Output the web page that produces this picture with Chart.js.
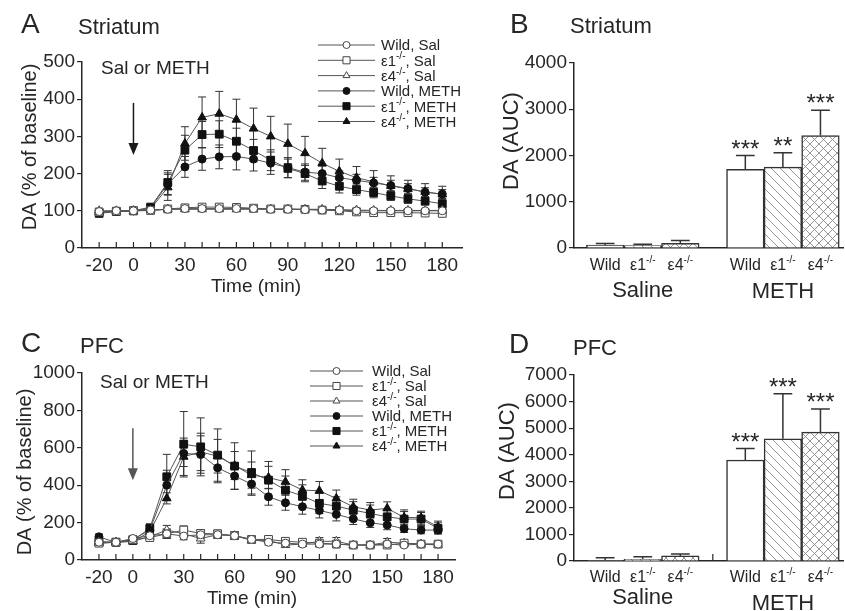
<!DOCTYPE html>
<html>
<head>
<meta charset="utf-8">
<script src="https://cdn.jsdelivr.net/npm/chart.js@4.4.0/dist/chart.umd.min.js"></script>
<style>
    body { margin: 0; background: #fff; }
    #wrap { position: relative; width: 845px; height: 611px; background: #fff; }
    #wrap canvas { position: absolute; left: 0; top: 0; }
</style>
</head>
<body>
<div id="wrap">
    <canvas id="chartA" width="845" height="611"></canvas>
    <canvas id="chartB" width="845" height="611"></canvas>
    <canvas id="chartC" width="845" height="611"></canvas>
    <canvas id="chartD" width="845" height="611"></canvas>
</div>
<script>
/******************************************* DATOS *******************************************/
const times = [-20, -10, 0, 10, 20, 30, 40, 50, 60, 70, 80, 90, 100, 110, 120, 130, 140, 150, 160, 170, 180];
const timeLabels = [-20, 0, 30, 60, 90, 120, 150, 180];
const seriesNames = ["Wild, Sal", "ε1^-/-^, Sal", "ε4^-/-^, Sal", "Wild, METH", "ε1^-/-^, METH", "ε4^-/-^, METH"];
const genotypes = ["Wild", "ε1^-/-^", "ε4^-/-^"];
const groups = ["Saline", "METH"];

// A - Striatum, % of baseline
const striWildSal = [98, 100, 100, 102, 104, 106, 106, 106, 106, 106, 104, 104, 103, 102, 102, 100, 100, 100, 100, 100, 100];
const striE1Sal = [97, 99, 100, 101, 105, 108, 110, 110, 109, 107, 105, 105, 104, 102, 100, 97, 95, 95, 95, 94, 93];
const striE4Sal = [100, 100, 100, 101, 104, 104, 104, 104, 104, 104, 104, 104, 104, 104, 103, 102, 101, 101, 101, 101, 101];
const striWildMeth = [95, 98, 100, 108, 172, 218, 239, 245, 246, 239, 228, 216, 204, 200, 189, 182, 175, 168, 160, 150, 145];
const striE1Meth = [93, 98, 100, 110, 176, 263, 305, 306, 287, 262, 236, 214, 200, 180, 166, 157, 149, 140, 132, 126, 119];
const striE4Meth = [96, 99, 100, 105, 163, 281, 351, 361, 345, 321, 300, 280, 255, 228, 206, 189, 178, 167, 159, 151, 144];
const striWildSalErr = [4, 4, 3, 4, 5, 5, 6, 6, 6, 5, 5, 5, 5, 5, 5, 5, 5, 5, 5, 5, 5];
const striE1SalErr = [4, 4, 3, 4, 5, 6, 6, 6, 6, 6, 5, 5, 5, 5, 5, 5, 5, 5, 5, 5, 5];
const striE4SalErr = [4, 4, 3, 4, 5, 5, 5, 5, 5, 5, 5, 5, 5, 5, 5, 5, 5, 5, 5, 5, 5];
const striWildMethErr = [5, 4, 3, 6, 30, 28, 30, 32, 36, 32, 30, 27, 22, 20, 18, 16, 15, 14, 13, 12, 12];
const striE1MethErr = [5, 4, 3, 6, 32, 40, 35, 36, 35, 30, 28, 25, 22, 20, 18, 15, 14, 12, 12, 10, 10];
const striE4MethErr = [5, 4, 3, 6, 35, 45, 55, 60, 55, 55, 54, 53, 45, 40, 33, 30, 30, 27, 23, 22, 22];

// C - PFC, % of baseline
const pfcWildSal = [95, 95, 115, 130, 140, 128, 135, 135, 130, 110, 95, 90, 85, 85, 85, 80, 80, 85, 80, 85, 85];
const pfcE1Sal = [90, 95, 110, 120, 140, 160, 142, 140, 130, 110, 110, 100, 95, 90, 85, 80, 80, 80, 90, 85, 85];
const pfcE4Sal = [95, 95, 100, 125, 160, 140, 115, 135, 130, 105, 105, 80, 85, 100, 100, 80, 80, 95, 90, 85, 80];
const pfcWildMeth = [124, 94, 110, 160, 400, 570, 564, 493, 449, 406, 338, 306, 285, 265, 244, 220, 199, 187, 167, 160, 160];
const pfcE1Meth = [97, 95, 105, 169, 445, 619, 605, 561, 502, 468, 427, 374, 342, 303, 288, 267, 249, 231, 219, 219, 169];
const pfcE4Meth = [90, 95, 100, 150, 330, 552, 578, 555, 505, 454, 441, 418, 374, 370, 329, 285, 267, 276, 228, 226, 178];
const pfcWildSalErr = [10, 8, 10, 15, 25, 20, 20, 20, 20, 15, 15, 12, 12, 12, 10, 10, 10, 10, 10, 10, 10];
const pfcE1SalErr = [10, 8, 10, 15, 25, 22, 20, 20, 20, 15, 15, 12, 12, 12, 10, 10, 10, 10, 10, 10, 10];
const pfcE4SalErr = [10, 8, 10, 15, 25, 20, 25, 20, 20, 15, 15, 12, 12, 20, 20, 10, 10, 20, 10, 10, 10];
const pfcWildMethErr = [15, 10, 15, 20, 80, 70, 100, 80, 70, 60, 45, 40, 40, 40, 35, 30, 25, 25, 20, 20, 20];
const pfcE1MethErr = [15, 10, 15, 25, 120, 175, 155, 140, 125, 115, 100, 75, 60, 55, 50, 45, 45, 40, 40, 35, 30];
const pfcE4MethErr = [15, 10, 15, 20, 30, 100, 100, 90, 75, 70, 60, 65, 55, 50, 45, 40, 40, 35, 40, 35, 30];

// B - Striatum, AUC
const striSalAUC = [65, 55, 100];
const striSalAUCErr = [35, 25, 60];
const striMethAUC = [1700, 1750, 2430];
const striMethAUCErr = [300, 310, 550];
const striStars = ["***", "**", "***"];

// D - PFC, AUC
const pfcSalAUC = [20, 60, 190];
const pfcSalAUCErr = [100, 100, 75];
const pfcMethAUC = [3800, 4600, 4850];
const pfcMethAUCErr = [430, 1690, 870];
const pfcStars = ["***", "***", "***"];
/**********************************************************************************************/

const FONT = '"Liberation Sans", Arial, Helvetica, sans-serif';
const INK = "#262626";
const W = 845, H = 611, X_H = 30;
const GAP = 0.73; // hueco entre Saline y METH (en anchos de barra)

const markers = ["circle", "rect", "triangle", "circle", "rect", "triangle"];
const radii = [4, 5.5, 5, 4, 5.5, 5];
const legendRadii = [3.5, 5, 4, 3.5, 5, 4];
const filled = [false, false, false, true, true, true];

// texto con superindices: "ε1^-/-^, Sal"
function richText(ctx, str, x, y, size, align) {
    const parts = str.split("^");
    const supSize = Math.round(size * 0.64);
    let w = 0;
    parts.forEach((p, i) => {
        ctx.font = (i % 2 ? supSize : size) + "px " + FONT;
        w += ctx.measureText(p).width;
    });
    let cx = align === "center" ? x - w / 2 : align === "right" ? x - w : x;
    ctx.textAlign = "left";
    ctx.textBaseline = "alphabetic";
    parts.forEach((p, i) => {
        ctx.font = (i % 2 ? supSize : size) + "px " + FONT;
        ctx.fillText(p, cx, i % 2 ? y - size * 0.42 : y);
        cx += ctx.measureText(p).width;
    });
}

function plainText(ctx, t) {
    ctx.save();
    ctx.fillStyle = INK;
    ctx.font = t.size + "px " + FONT;
    ctx.textAlign = t.align || "left";
    ctx.textBaseline = t.rot ? "middle" : "alphabetic";
    ctx.translate(t.x, t.y);
    if (t.rot) ctx.rotate(-Math.PI / 2);
    ctx.fillText(t.text, 0, 0);
    ctx.restore();
}

// patrones de las barras
function makeFill(kind) {
    if (kind === "white") return "#ffffff";
    const s = 9;
    const tile = document.createElement("canvas");
    tile.width = s;
    tile.height = s;
    const g = tile.getContext("2d");
    g.fillStyle = "#fff";
    g.fillRect(0, 0, s, s);
    g.strokeStyle = "#8a8a8a";
    g.lineWidth = 0.9;
    g.beginPath();
    // lineas "\"
    g.moveTo(-1, -1); g.lineTo(s + 1, s + 1);
    g.moveTo(-1, s - 1); g.lineTo(1, s + 1);
    g.moveTo(s - 1, -1); g.lineTo(s + 1, 1);
    if (kind === "cross") {
        // lineas "/"
        g.moveTo(-1, s + 1); g.lineTo(s + 1, -1);
        g.moveTo(-1, 1); g.lineTo(1, -1);
        g.moveTo(s - 1, s + 1); g.lineTo(s + 1, s - 1);
    }
    g.stroke();
    return g.createPattern(tile, "repeat");
}
const barFills = [makeFill("white"), makeFill("diag"), makeFill("cross")];

// configuracion de decoracion por grafica
const deco = {};

function pad(area) {
    return { left: 0, top: area.t, right: W - area.r, bottom: H - area.b - X_H };
}

const decor = {
    id: "decor",
    beforeDatasetsDraw(chart) {
        const d = deco[chart.canvas.id];
        const ctx = chart.ctx;
        const y = chart.scales.y;
        ctx.save();
        ctx.strokeStyle = "#333";
        chart.data.datasets.forEach((ds, i) => {
            const meta = chart.getDatasetMeta(i);
            meta.data.forEach((el, k) => {
                const v = ds.data[k].y;
                const e = ds.errors[k];
                const top = y.getPixelForValue(v + e);
                if (d.kind === "bar") {
                    const half = el.width * 0.25;
                    ctx.lineWidth = 1.5;
                    ctx.beginPath();
                    ctx.moveTo(el.x, el.y);
                    ctx.lineTo(el.x, top);
                    ctx.moveTo(el.x - half, top);
                    ctx.lineTo(el.x + half, top);
                    ctx.stroke();
                } else {
                    const bot = y.getPixelForValue(v - e);
                    ctx.lineWidth = 1;
                    ctx.beginPath();
                    ctx.moveTo(el.x, top);
                    ctx.lineTo(el.x, bot);
                    ctx.moveTo(el.x - 4, top);
                    ctx.lineTo(el.x + 4, top);
                    ctx.moveTo(el.x - 4, bot);
                    ctx.lineTo(el.x + 4, bot);
                    ctx.stroke();
                }
            });
        });
        ctx.restore();
    },
    afterDraw(chart) {
        const d = deco[chart.canvas.id];
        const ctx = chart.ctx;
        const xs = chart.scales.x;
        const ys = chart.scales.y;
        const area = chart.chartArea;
        ctx.save();
        ctx.fillStyle = INK;
        ctx.strokeStyle = INK;

        if (d.kind === "line") {
            // marcas del eje x hacia dentro
            ctx.lineWidth = 1.2;
            ctx.beginPath();
            times.forEach((t) => {
                const px = xs.getPixelForValue(t);
                ctx.moveTo(px, area.bottom);
                ctx.lineTo(px, area.bottom - 6);
            });
            ctx.stroke();

            // flecha de inyeccion
            const ax = xs.getPixelForValue(0);
            const a1 = ys.getPixelForValue(d.arrow[0]);
            const a2 = ys.getPixelForValue(d.arrow[1]);
            ctx.strokeStyle = d.arrowColor;
            ctx.fillStyle = d.arrowColor;
            ctx.lineWidth = 1.5;
            ctx.beginPath();
            ctx.moveTo(ax, a1);
            ctx.lineTo(ax, a2 - 10);
            ctx.stroke();
            ctx.beginPath();
            ctx.moveTo(ax - 5, a2 - 12);
            ctx.lineTo(ax + 5, a2 - 12);
            ctx.lineTo(ax, a2);
            ctx.closePath();
            ctx.fill();

            // leyenda
            const L = d.legend;
            chart.data.datasets.forEach((ds, i) => {
                const ry = L.y + i * L.dy;
                ctx.strokeStyle = "#555";
                ctx.lineWidth = 1;
                ctx.beginPath();
                ctx.moveTo(L.x0, ry);
                ctx.lineTo(L.x1, ry);
                ctx.stroke();
                ctx.fillStyle = filled[i] ? "#111" : "#fff";
                ctx.strokeStyle = filled[i] ? "#111" : "#444";
                Chart.helpers.drawPoint(ctx, { pointStyle: markers[i], radius: legendRadii[i], borderWidth: 1, rotation: 0 }, (L.x0 + L.x1) / 2, ry);
                ctx.fillStyle = INK;
                richText(ctx, seriesNames[i], L.tx, ry + L.size * 0.36, L.size, "left");
            });
        } else {
            // etiquetas de genotipo y grupo
            const meta = chart.getDatasetMeta(0);
            ctx.fillStyle = INK;
            meta.data.forEach((el, i) => {
                richText(ctx, genotypes[i % 3], el.x, d.catY, 16, "center");
            });
            groups.forEach((g, j) => {
                const gx = (meta.data[j * 3].x + meta.data[j * 3 + 2].x) / 2;
                ctx.font = "22px " + FONT;
                ctx.textAlign = "center";
                ctx.fillText(g, gx, d.groupY[j]);
            });
            // asteriscos
            const ds = chart.data.datasets[0];
            d.stars.forEach((s, k) => {
                const i = k + 3;
                const top = ys.getPixelForValue(ds.data[i].y + ds.errors[i]);
                ctx.font = "24px " + FONT;
                ctx.textAlign = "center";
                ctx.fillText(s, meta.data[i].x, top + 1);
            });
            // marca entre grupos
            if (d.gapTick) {
                const gx = xs.getPixelForValue((2.5 + 3 + GAP - 0.5) / 2);
                ctx.lineWidth = 1.2;
                ctx.beginPath();
                ctx.moveTo(gx, area.bottom);
                ctx.lineTo(gx, area.bottom - 7);
                ctx.stroke();
            }
        }

        d.texts.forEach((t) => plainText(ctx, t));
        ctx.restore();
    },
};

function lineChart(id, cfg) {
    deco[id] = cfg;
    const sets = cfg.series.map((vals, i) => ({
        label: seriesNames[i],
        data: times.map((t, k) => ({ x: t, y: vals[k] })),
        errors: cfg.errors[i],
        borderColor: "#555",
        borderWidth: 1,
        pointStyle: markers[i],
        pointRadius: radii[i],
        pointBackgroundColor: filled[i] ? "#111" : "#fff",
        pointBorderColor: filled[i] ? "#111" : "#444",
        pointBorderWidth: 1,
        tension: 0,
    }));
    return new Chart(document.getElementById(id), {
        type: "line",
        data: { datasets: sets },
        options: {
            responsive: false,
            animation: false,
            events: [],
            layout: { padding: pad(cfg.area) },
            plugins: { legend: { display: false }, tooltip: { enabled: false } },
            scales: {
                x: {
                    type: "linear",
                    min: cfg.xMin,
                    max: cfg.xMax,
                    afterFit: (s) => { s.height = X_H; },
                    afterBuildTicks: (s) => { s.ticks = times.map((v) => ({ value: v })); },
                    ticks: {
                        autoSkip: false,
                        maxRotation: 0,
                        padding: 6,
                        color: INK,
                        font: { family: FONT, size: 19 },
                        callback: (v) => (timeLabels.includes(v) ? String(v) : ""),
                    },
                    grid: { drawOnChartArea: false, drawTicks: false, color: INK },
                    border: { color: INK, width: 1.5 },
                },
                y: {
                    min: 0,
                    max: cfg.yMax,
                    afterFit: (s) => { s.width = cfg.area.l; },
                    ticks: { stepSize: cfg.yStep, padding: 2, color: INK, font: { family: FONT, size: 19 }, callback: (v) => String(v) },
                    grid: { drawOnChartArea: false, tickLength: 5, color: INK, lineWidth: 1.2 },
                    border: { color: INK, width: 1.5 },
                },
            },
        },
        plugins: [decor],
    });
}

function barChart(id, cfg) {
    deco[id] = cfg;
    const vals = cfg.sal.concat(cfg.meth);
    const errs = cfg.salErr.concat(cfg.methErr);
    return new Chart(document.getElementById(id), {
        type: "bar",
        data: {
            datasets: [
                {
                    data: vals.map((v, i) => ({ x: i + (i >= 3 ? GAP : 0), y: v })),
                    errors: errs,
                    backgroundColor: vals.map((v, i) => barFills[i % 3]),
                    borderColor: "#333",
                    borderWidth: 1.5,
                    barPercentage: 1,
                    categoryPercentage: 1,
                },
            ],
        },
        options: {
            responsive: false,
            animation: false,
            events: [],
            layout: { padding: pad(cfg.area) },
            plugins: { legend: { display: false }, tooltip: { enabled: false } },
            scales: {
                x: {
                    type: "linear",
                    offset: false,
                    min: -0.83,
                    max: 6.33,
                    afterFit: (s) => { s.height = X_H; },
                    ticks: { display: false },
                    grid: { drawOnChartArea: false, drawTicks: false, offset: false, color: INK },
                    border: { color: INK, width: 1.5 },
                },
                y: {
                    min: 0,
                    max: cfg.yMax,
                    afterFit: (s) => { s.width = cfg.area.l; },
                    ticks: { stepSize: 1000, padding: 2, color: INK, font: { family: FONT, size: 19 }, callback: (v) => String(v) },
                    grid: { drawOnChartArea: false, tickLength: 5, color: INK, lineWidth: 1.2 },
                    border: { color: INK, width: 1.5 },
                },
            },
        },
        plugins: [decor],
    });
}

/******************************************* GRAFICAS *******************************************/
lineChart("chartA", {
    kind: "line",
    area: { l: 82, t: 62, r: 462, b: 248 },
    xMin: -30, xMax: 191.5, yMax: 500, yStep: 100,
    series: [striWildSal, striE1Sal, striE4Sal, striWildMeth, striE1Meth, striE4Meth],
    errors: [striWildSalErr, striE1SalErr, striE4SalErr, striWildMethErr, striE1MethErr, striE4MethErr],
    arrow: [390, 250], arrowColor: "#1a1a1a",
    legend: { x0: 318, x1: 375, tx: 381, y: 45, dy: 15.3, size: 15 },
    texts: [
        { text: "A", x: 21, y: 33, size: 28 },
        { text: "Striatum", x: 78, y: 34, size: 22 },
        { text: "Sal or METH", x: 101, y: 74, size: 19 },
        { text: "Time (min)", x: 256, y: 292, size: 19, align: "center" },
        { text: "DA (% of baseline)", x: 30, y: 147, size: 20, align: "center", rot: true },
    ],
});

lineChart("chartC", {
    kind: "line",
    area: { l: 82, t: 373, r: 455, b: 560 },
    xMin: -30, xMax: 190, yMax: 1000, yStep: 200,
    series: [pfcWildSal, pfcE1Sal, pfcE4Sal, pfcWildMeth, pfcE1Meth, pfcE4Meth],
    errors: [pfcWildSalErr, pfcE1SalErr, pfcE4SalErr, pfcWildMethErr, pfcE1MethErr, pfcE4MethErr],
    arrow: [705, 427], arrowColor: "#555",
    legend: { x0: 310, x1: 363, tx: 372, y: 371, dy: 15, size: 15 },
    texts: [
        { text: "C", x: 21, y: 352, size: 28 },
        { text: "PFC", x: 80, y: 353, size: 22 },
        { text: "Sal or METH", x: 100, y: 388, size: 19 },
        { text: "Time (min)", x: 252, y: 604, size: 19, align: "center" },
        { text: "DA (% of baseline)", x: 25, y: 472, size: 20, align: "center", rot: true },
    ],
});

barChart("chartB", {
    kind: "bar",
    area: { l: 574, t: 63, r: 843, b: 248 },
    yMax: 4000,
    sal: striSalAUC, salErr: striSalAUCErr, meth: striMethAUC, methErr: striMethAUCErr,
    stars: striStars,
    catY: 270, groupY: [297, 298], gapTick: false,
    texts: [
        { text: "B", x: 510, y: 33, size: 28 },
        { text: "Striatum", x: 570, y: 33, size: 22 },
        { text: "DA (AUC)", x: 512, y: 141, size: 22, align: "center", rot: true },
    ],
});

barChart("chartD", {
    kind: "bar",
    area: { l: 574, t: 375, r: 843, b: 561 },
    yMax: 7000,
    sal: pfcSalAUC, salErr: pfcSalAUCErr, meth: pfcMethAUC, methErr: pfcMethAUCErr,
    stars: pfcStars,
    catY: 582, groupY: [604, 610], gapTick: true,
    texts: [
        { text: "D", x: 509, y: 353, size: 28 },
        { text: "PFC", x: 573, y: 355, size: 22 },
        { text: "DA (AUC)", x: 508, y: 451, size: 22, align: "center", rot: true },
    ],
});
</script>
</body>
</html>
